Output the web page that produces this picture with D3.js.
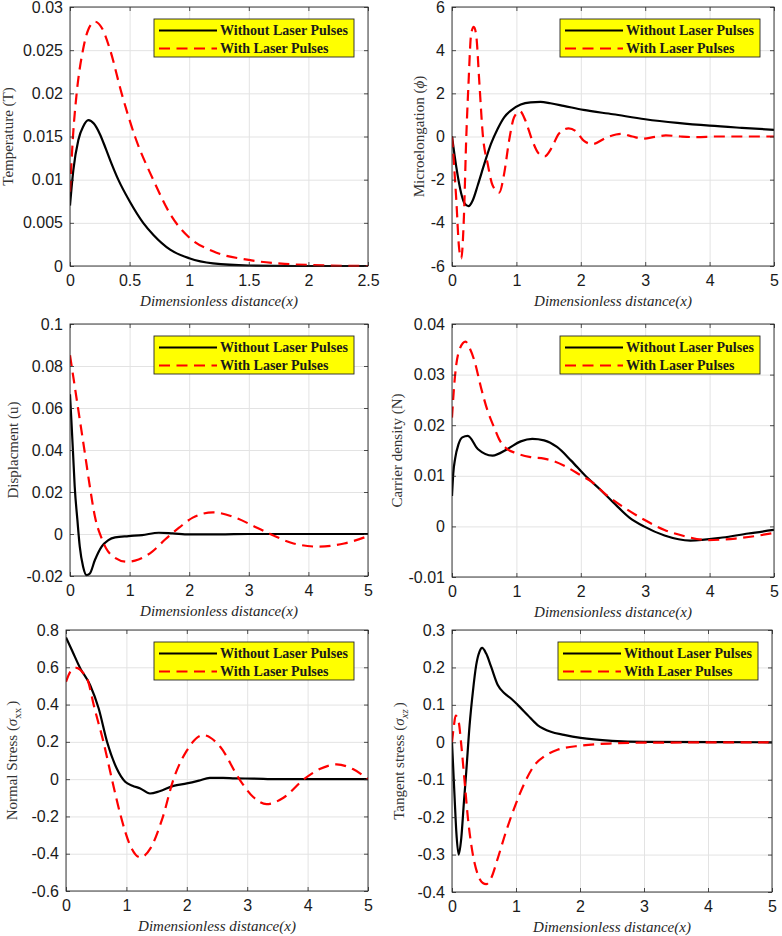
<!DOCTYPE html>
<html><head><meta charset="utf-8">
<script src="https://cdn.jsdelivr.net/npm/d3@7"></script>
<style>body{margin:0;background:#fff}</style>
</head><body><svg id="c" width="782" height="936"></svg>
<script>
// ---------------- DATA ----------------
const legendLabels = ["Without Laser Pulses", "With Laser Pulses"];

// Panel 1: Temperature
const tempXTicks = [0, 0.5, 1, 1.5, 2, 2.5];
const tempXLabels = ["0", "0.5", "1", "1.5", "2", "2.5"];
const tempYTicks = [0, 0.005, 0.01, 0.015, 0.02, 0.025, 0.03];
const tempYLabels = ["0", "0.005", "0.01", "0.015", "0.02", "0.025", "0.03"];
const tempWithoutX = [0, 0.028, 0.07, 0.112, 0.154, 0.2, 0.25, 0.3, 0.35, 0.405, 0.5, 0.614, 0.7, 0.84, 1.0, 1.2, 1.5, 2.0, 2.5];
const tempWithoutY = [0.0070, 0.0111, 0.0146, 0.0162, 0.0169, 0.0165, 0.0153, 0.0136, 0.0118, 0.0100, 0.0075, 0.0050, 0.0036, 0.0019, 0.0009, 0.0003, 0.00006, 0, 0];
const tempWithX = [0, 0.025, 0.056, 0.11, 0.154, 0.21, 0.27, 0.335, 0.433, 0.545, 0.698, 0.85, 1.0, 1.2, 1.5, 1.8, 2.0, 2.5];
const tempWithY = [0.0086, 0.0150, 0.0200, 0.0251, 0.0274, 0.0283, 0.0275, 0.0251, 0.0200, 0.0150, 0.0100, 0.0058, 0.0033, 0.0017, 0.0007, 0.00025, 0.00012, 0];

// Panel 2: Microelongation
const x5Ticks = [0, 1, 2, 3, 4, 5];
const x5Labels = ["0", "1", "2", "3", "4", "5"];
const microYTicks = [-6, -4, -2, 0, 2, 4, 6];
const microYLabels = ["-6", "-4", "-2", "0", "2", "4", "6"];
const microWithoutX = [0, 0.067, 0.144, 0.195, 0.256, 0.323, 0.4, 0.503, 0.605, 0.708, 0.81, 0.913, 1.067, 1.22, 1.374, 1.528, 1.733, 2.04, 2.5, 3, 3.5, 4, 4.5, 5];
const microWithoutY = [0, -1.42, -2.65, -3.1, -3.23, -2.95, -2.26, -1.26, -0.34, 0.35, 0.89, 1.2, 1.48, 1.58, 1.6, 1.54, 1.42, 1.23, 1.03, 0.8, 0.63, 0.5, 0.4, 0.31];
const microWithX = [0, 0.067, 0.108, 0.144, 0.185, 0.22, 0.256, 0.297, 0.338, 0.374, 0.426, 0.477, 0.554, 0.63, 0.733, 0.81, 0.887, 0.964, 1.056, 1.14, 1.246, 1.35, 1.44, 1.554, 1.656, 1.81, 1.94, 2.04, 2.18, 2.4, 2.62, 2.8, 2.96, 3.15, 3.32, 3.55, 3.8, 4.1, 5];
const microWithY = [0, -2.95, -5.1, -5.65, -3.72, -0.18, 2.43, 4.74, 5.08, 4.74, 2.43, 0.12, -1.26, -2.26, -2.6, -1.72, -0.18, 0.89, 1.17, 0.74, -0.18, -0.8, -0.92, -0.49, 0.12, 0.38, 0.2, -0.18, -0.35, -0.05, 0.12, 0.0, -0.1, -0.02, 0.05, 0.0, -0.03, 0, 0];

// Panel 3: Displacement
const dispYTicks = [-0.02, 0, 0.02, 0.04, 0.06, 0.08, 0.1];
const dispYLabels = ["-0.02", "0", "0.02", "0.04", "0.06", "0.08", "0.1"];
const dispWithoutX = [0, 0.0225, 0.051, 0.079, 0.124, 0.164, 0.22, 0.277, 0.333, 0.418, 0.531, 0.644, 0.757, 0.983, 1.21, 1.49, 1.72, 2.0, 2.5, 3, 5];
const dispWithoutY = [0.0665, 0.0545, 0.0386, 0.0226, 0.0067, -0.006, -0.0156, -0.0196, -0.0188, -0.0124, -0.006, -0.0029, -0.0016, -0.001, -0.0005, 0.0006, 0.0003, -0.0002, -0.0002, 0, 0];
const dispWithX = [0, 0.079, 0.164, 0.249, 0.333, 0.418, 0.53, 0.6, 0.729, 0.955, 1.15, 1.38, 1.6, 1.83, 2.06, 2.4, 2.8, 3.1, 3.36, 3.75, 4.16, 4.6, 5];
const dispWithY = [0.0851, 0.0704, 0.0545, 0.0386, 0.0226, 0.0083, -0.002, -0.0065, -0.0108, -0.0132, -0.0121, -0.0084, -0.0025, 0.003, 0.0078, 0.0103, 0.0075, 0.0035, 0, -0.0045, -0.006, -0.0045, -0.001];

// Panel 4: Carrier density
const carYTicks = [-0.01, 0, 0.01, 0.02, 0.03, 0.04];
const carYLabels = ["-0.01", "0", "0.01", "0.02", "0.03", "0.04"];
const carWithoutX = [0, 0.02, 0.05, 0.1, 0.16, 0.246, 0.4, 0.63, 0.862, 1.067, 1.246, 1.43, 1.63, 1.85, 2.07, 2.3, 2.5, 2.75, 2.98, 3.3, 3.7, 4.2, 4.6, 5];
const carWithoutY = [0.006, 0.0105, 0.0135, 0.0162, 0.0176, 0.0179, 0.0153, 0.014, 0.0153, 0.0168, 0.0173, 0.017, 0.0157, 0.013, 0.0100, 0.0073, 0.0048, 0.0018, 0.0, -0.0018, -0.0028, -0.0022, -0.0014, -0.0007];
const carWithX = [0, 0.031, 0.067, 0.118, 0.21, 0.272, 0.349, 0.451, 0.554, 0.656, 0.733, 0.836, 0.99, 1.22, 1.43, 1.58, 1.8, 2.0, 2.16, 2.4, 2.7, 3.0, 3.3, 3.6, 3.97, 4.4, 5];
const carWithY = [0.0215, 0.0274, 0.032, 0.035, 0.0365, 0.0353, 0.0327, 0.0274, 0.0228, 0.0195, 0.0172, 0.0155, 0.0145, 0.0137, 0.0134, 0.0129, 0.0116, 0.0101, 0.0089, 0.0062, 0.0035, 0.0012, -0.0007, -0.0019, -0.0027, -0.0024, -0.0013];

// Panel 5: Normal stress
const normYTicks = [-0.6, -0.4, -0.2, 0, 0.2, 0.4, 0.6, 0.8];
const normYLabels = ["-0.6", "-0.4", "-0.2", "0", "0.2", "0.4", "0.6", "0.8"];
const normWithoutX = [0, 0.1, 0.237, 0.4, 0.54, 0.68, 0.84, 0.98, 1.1, 1.23, 1.39, 1.55, 1.78, 2.0, 2.2, 2.38, 2.6, 2.8, 3.1, 3.5, 4, 5];
const normWithoutY = [0.76, 0.69, 0.594, 0.504, 0.38, 0.2, 0.057, -0.014, -0.035, -0.05, -0.077, -0.065, -0.036, -0.023, -0.008, 0.007, 0.007, 0.004, 0.003, 0.0, 0, 0];
const normWithX = [0, 0.08, 0.17, 0.27, 0.37, 0.457, 0.62, 0.76, 0.9, 1.05, 1.23, 1.4, 1.6, 1.78, 2.0, 2.27, 2.55, 2.87, 3.1, 3.32, 3.6, 3.94, 4.2, 4.48, 4.75, 5];
const normWithY = [0.522, 0.58, 0.597, 0.575, 0.52, 0.4, 0.2, 0.0, -0.19, -0.346, -0.42, -0.37, -0.206, 0.0, 0.153, 0.236, 0.175, 0.0, -0.096, -0.134, -0.1, 0.0, 0.054, 0.079, 0.054, 0.0];

// Panel 6: Tangent stress
const tanYTicks = [-0.4, -0.3, -0.2, -0.1, 0, 0.1, 0.2, 0.3];
const tanYLabels = ["-0.4", "-0.3", "-0.2", "-0.1", "0", "0.1", "0.2", "0.3"];
const tanWithoutX = [0, 0.041, 0.067, 0.104, 0.145, 0.187, 0.223, 0.275, 0.326, 0.378, 0.43, 0.47, 0.534, 0.611, 0.715, 0.819, 0.922, 1.026, 1.18, 1.337, 1.544, 1.75, 2.01, 2.5, 3, 5];
const tanWithoutY = [0, -0.149, -0.238, -0.30, -0.256, -0.158, -0.078, 0.046, 0.135, 0.206, 0.242, 0.252, 0.237, 0.202, 0.153, 0.131, 0.117, 0.1, 0.073, 0.046, 0.028, 0.02, 0.012, 0.004, 0.001, 0];
const tanWithX = [0, 0.031, 0.057, 0.104, 0.145, 0.197, 0.249, 0.326, 0.404, 0.482, 0.534, 0.611, 0.715, 0.845, 0.974, 1.13, 1.285, 1.44, 1.648, 2.01, 2.5, 3, 5];
const tanWithY = [0, 0.046, 0.071, 0.055, -0.007, -0.105, -0.203, -0.30, -0.354, -0.376, -0.379, -0.363, -0.31, -0.238, -0.175, -0.11, -0.062, -0.038, -0.02, -0.009, -0.003, -0.001, 0];

// ---------------- LAYOUT ----------------
const zip = (xs, ys) => xs.map((v, i) => [v, ys[i]]);
const panels = [
  { box: [70, 368, 7, 266], ylx: 7.5, xd: [0, 2.5], yd: [0, 0.03], xt: tempXTicks, xl: tempXLabels, yt: tempYTicks, yl: tempYLabels,
    ylabel: [{ t: "Temperature (T)" }], s0: zip(tempWithoutX, tempWithoutY), s1: zip(tempWithX, tempWithY) },
  { box: [452, 774, 7, 266], ylx: 419, xd: [0, 5], yd: [-6, 6], xt: x5Ticks, xl: x5Labels, yt: microYTicks, yl: microYLabels,
    ylabel: [{ t: "Microelongation (" }, { t: "ϕ", it: true }, { t: ")" }], s0: zip(microWithoutX, microWithoutY), s1: zip(microWithX, microWithY) },
  { box: [70, 368, 324, 576], ylx: 13, xd: [0, 5], yd: [-0.02, 0.1], xt: x5Ticks, xl: x5Labels, yt: dispYTicks, yl: dispYLabels,
    ylabel: [{ t: "Displacment (u)" }], s0: zip(dispWithoutX, dispWithoutY), s1: zip(dispWithX, dispWithY) },
  { box: [452, 774, 324, 577], ylx: 397, xd: [0, 5], yd: [-0.01, 0.04], xt: x5Ticks, xl: x5Labels, yt: carYTicks, yl: carYLabels,
    ylabel: [{ t: "Carrier density (N)" }], s0: zip(carWithoutX, carWithoutY), s1: zip(carWithX, carWithY) },
  { box: [66, 368, 630, 891], ylx: 12, xd: [0, 5], yd: [-0.6, 0.8], xt: x5Ticks, xl: x5Labels, yt: normYTicks, yl: normYLabels,
    ylabel: [{ t: "Normal Stress (" }, { t: "σ", it: true }, { t: "xx", sub: true }, { t: ")" }], s0: zip(normWithoutX, normWithoutY), s1: zip(normWithX, normWithY) },
  { box: [452, 772, 630, 892], ylx: 399, xd: [0, 5], yd: [-0.4, 0.3], xt: x5Ticks, xl: x5Labels, yt: tanYTicks, yl: tanYLabels,
    ylabel: [{ t: "Tangent stress (" }, { t: "σ", it: true }, { t: "xz", sub: true, it: true }, { t: ")" }], s0: zip(tanWithoutX, tanWithoutY), s1: zip(tanWithX, tanWithY) }
];

const svg = d3.select("#c");
const SANS = "'Liberation Sans', Arial, Helvetica, sans-serif";
const SERIF = "'Liberation Serif', 'Times New Roman', Times, serif";
const AX = "#262626";
const DASH = "11,6.5";

panels.forEach((p, idx) => {
  const [L, R, T, B] = p.box;
  const x = d3.scaleLinear().domain(p.xd).range([L, R]);
  const y = d3.scaleLinear().domain(p.yd).range([B, T]);
  const g = svg.append("g");

  // grid
  const gx = g.append("g").attr("transform", `translate(0,${B})`)
    .call(d3.axisBottom(x).tickValues(p.xt).tickSize(-(B - T)).tickFormat(""));
  const gy = g.append("g").attr("transform", `translate(${L},0)`)
    .call(d3.axisLeft(y).tickValues(p.yt).tickSize(-(R - L)).tickFormat(""));
  [gx, gy].forEach(a => { a.select(".domain").remove(); a.selectAll("line").attr("stroke", "#e3e3e3").attr("stroke-width", 1); });

  // lines
  const cid = "clip" + idx;
  svg.append("clipPath").attr("id", cid).append("rect").attr("x", L).attr("y", T - 1).attr("width", R - L).attr("height", B - T + 2);
  const line = d3.line().x(d => x(d[0])).y(d => y(d[1])).curve(d3.curveMonotoneX);
  const lg = g.append("g").attr("clip-path", `url(#${cid})`);
  lg.append("path").attr("d", line(p.s0)).attr("fill", "none").attr("stroke", "#000").attr("stroke-width", 2.2).attr("stroke-linejoin", "round");
  lg.append("path").attr("d", line(p.s1)).attr("fill", "none").attr("stroke", "#ff0000").attr("stroke-width", 2.2).attr("stroke-dasharray", DASH);

  // axes with inward ticks and labels
  const fmtX = (d, i) => p.xl[i], fmtY = (d, i) => p.yl[i];
  const ab = g.append("g").attr("transform", `translate(0,${B})`)
    .call(d3.axisBottom(x).tickValues(p.xt).tickFormat(fmtX).tickSizeInner(-4).tickSizeOuter(0).tickPadding(8.6));
  const at = g.append("g").attr("transform", `translate(0,${T})`)
    .call(d3.axisTop(x).tickValues(p.xt).tickFormat("").tickSizeInner(-4).tickSizeOuter(0));
  const al = g.append("g").attr("transform", `translate(${L},0)`)
    .call(d3.axisLeft(y).tickValues(p.yt).tickFormat(fmtY).tickSizeInner(-4).tickSizeOuter(0).tickPadding(7));
  const ar = g.append("g").attr("transform", `translate(${R},0)`)
    .call(d3.axisRight(y).tickValues(p.yt).tickFormat("").tickSizeInner(-4).tickSizeOuter(0));
  [ab, at, al, ar].forEach(a => {
    a.select(".domain").remove();
    a.selectAll("line").attr("stroke", AX).attr("stroke-width", 0.8);
    a.attr("font-family", SANS).attr("font-size", 16);
    a.selectAll("text").attr("fill", "#1a1a1a");
  });
  g.append("rect").attr("x", L).attr("y", T).attr("width", R - L).attr("height", B - T)
    .attr("fill", "none").attr("stroke", AX).attr("stroke-width", 0.9);

  // x label
  g.append("text").attr("x", (L + R) / 2).attr("y", B + 40).attr("text-anchor", "middle")
    .attr("font-family", SERIF).attr("font-style", "italic").attr("font-size", 15).attr("fill", AX)
    .text("Dimensionless distance(x)");

  // y label
  const yt = g.append("text").attr("transform", `translate(${p.ylx},${(T + B) / 2}) rotate(-90)`)
    .attr("text-anchor", "middle").attr("dy", "0.35em")
    .attr("font-family", SERIF).attr("font-size", 15).attr("fill", "#333");
  p.ylabel.forEach(seg => {
    const ts = yt.append("tspan").text(seg.t);
    if (seg.it) ts.attr("font-style", "italic");
    if (seg.sub) { ts.attr("font-size", 11).attr("dy", 4); }
    else if (seg.t === ")" && p.ylabel.some(s => s.sub)) { ts.attr("dy", -4).attr("dx", 2); }
  });

  // legend
  const lw = 200, lh = 38, lx = R - 14 - lw, ly = T + 12;
  const leg = g.append("g");
  leg.append("rect").attr("x", lx).attr("y", ly).attr("width", lw).attr("height", lh)
    .attr("fill", "#ffff00").attr("stroke", AX).attr("stroke-width", 0.9);
  const rows = [ly + 11.5, ly + 29.5];
  leg.append("line").attr("x1", lx + 5).attr("x2", lx + 63).attr("y1", rows[0]).attr("y2", rows[0])
    .attr("stroke", "#000").attr("stroke-width", 2.2);
  leg.append("line").attr("x1", lx + 5).attr("x2", lx + 63).attr("y1", rows[1]).attr("y2", rows[1])
    .attr("stroke", "#ff0000").attr("stroke-width", 2.2).attr("stroke-dasharray", DASH);
  legendLabels.forEach((t, i) => {
    leg.append("text").attr("x", lx + 66).attr("y", rows[i] + 4.8)
      .attr("font-family", SERIF).attr("font-weight", "bold").attr("font-size", 14).attr("fill", "#1a1a1a").text(t);
  });
});
</script>
</body></html>
